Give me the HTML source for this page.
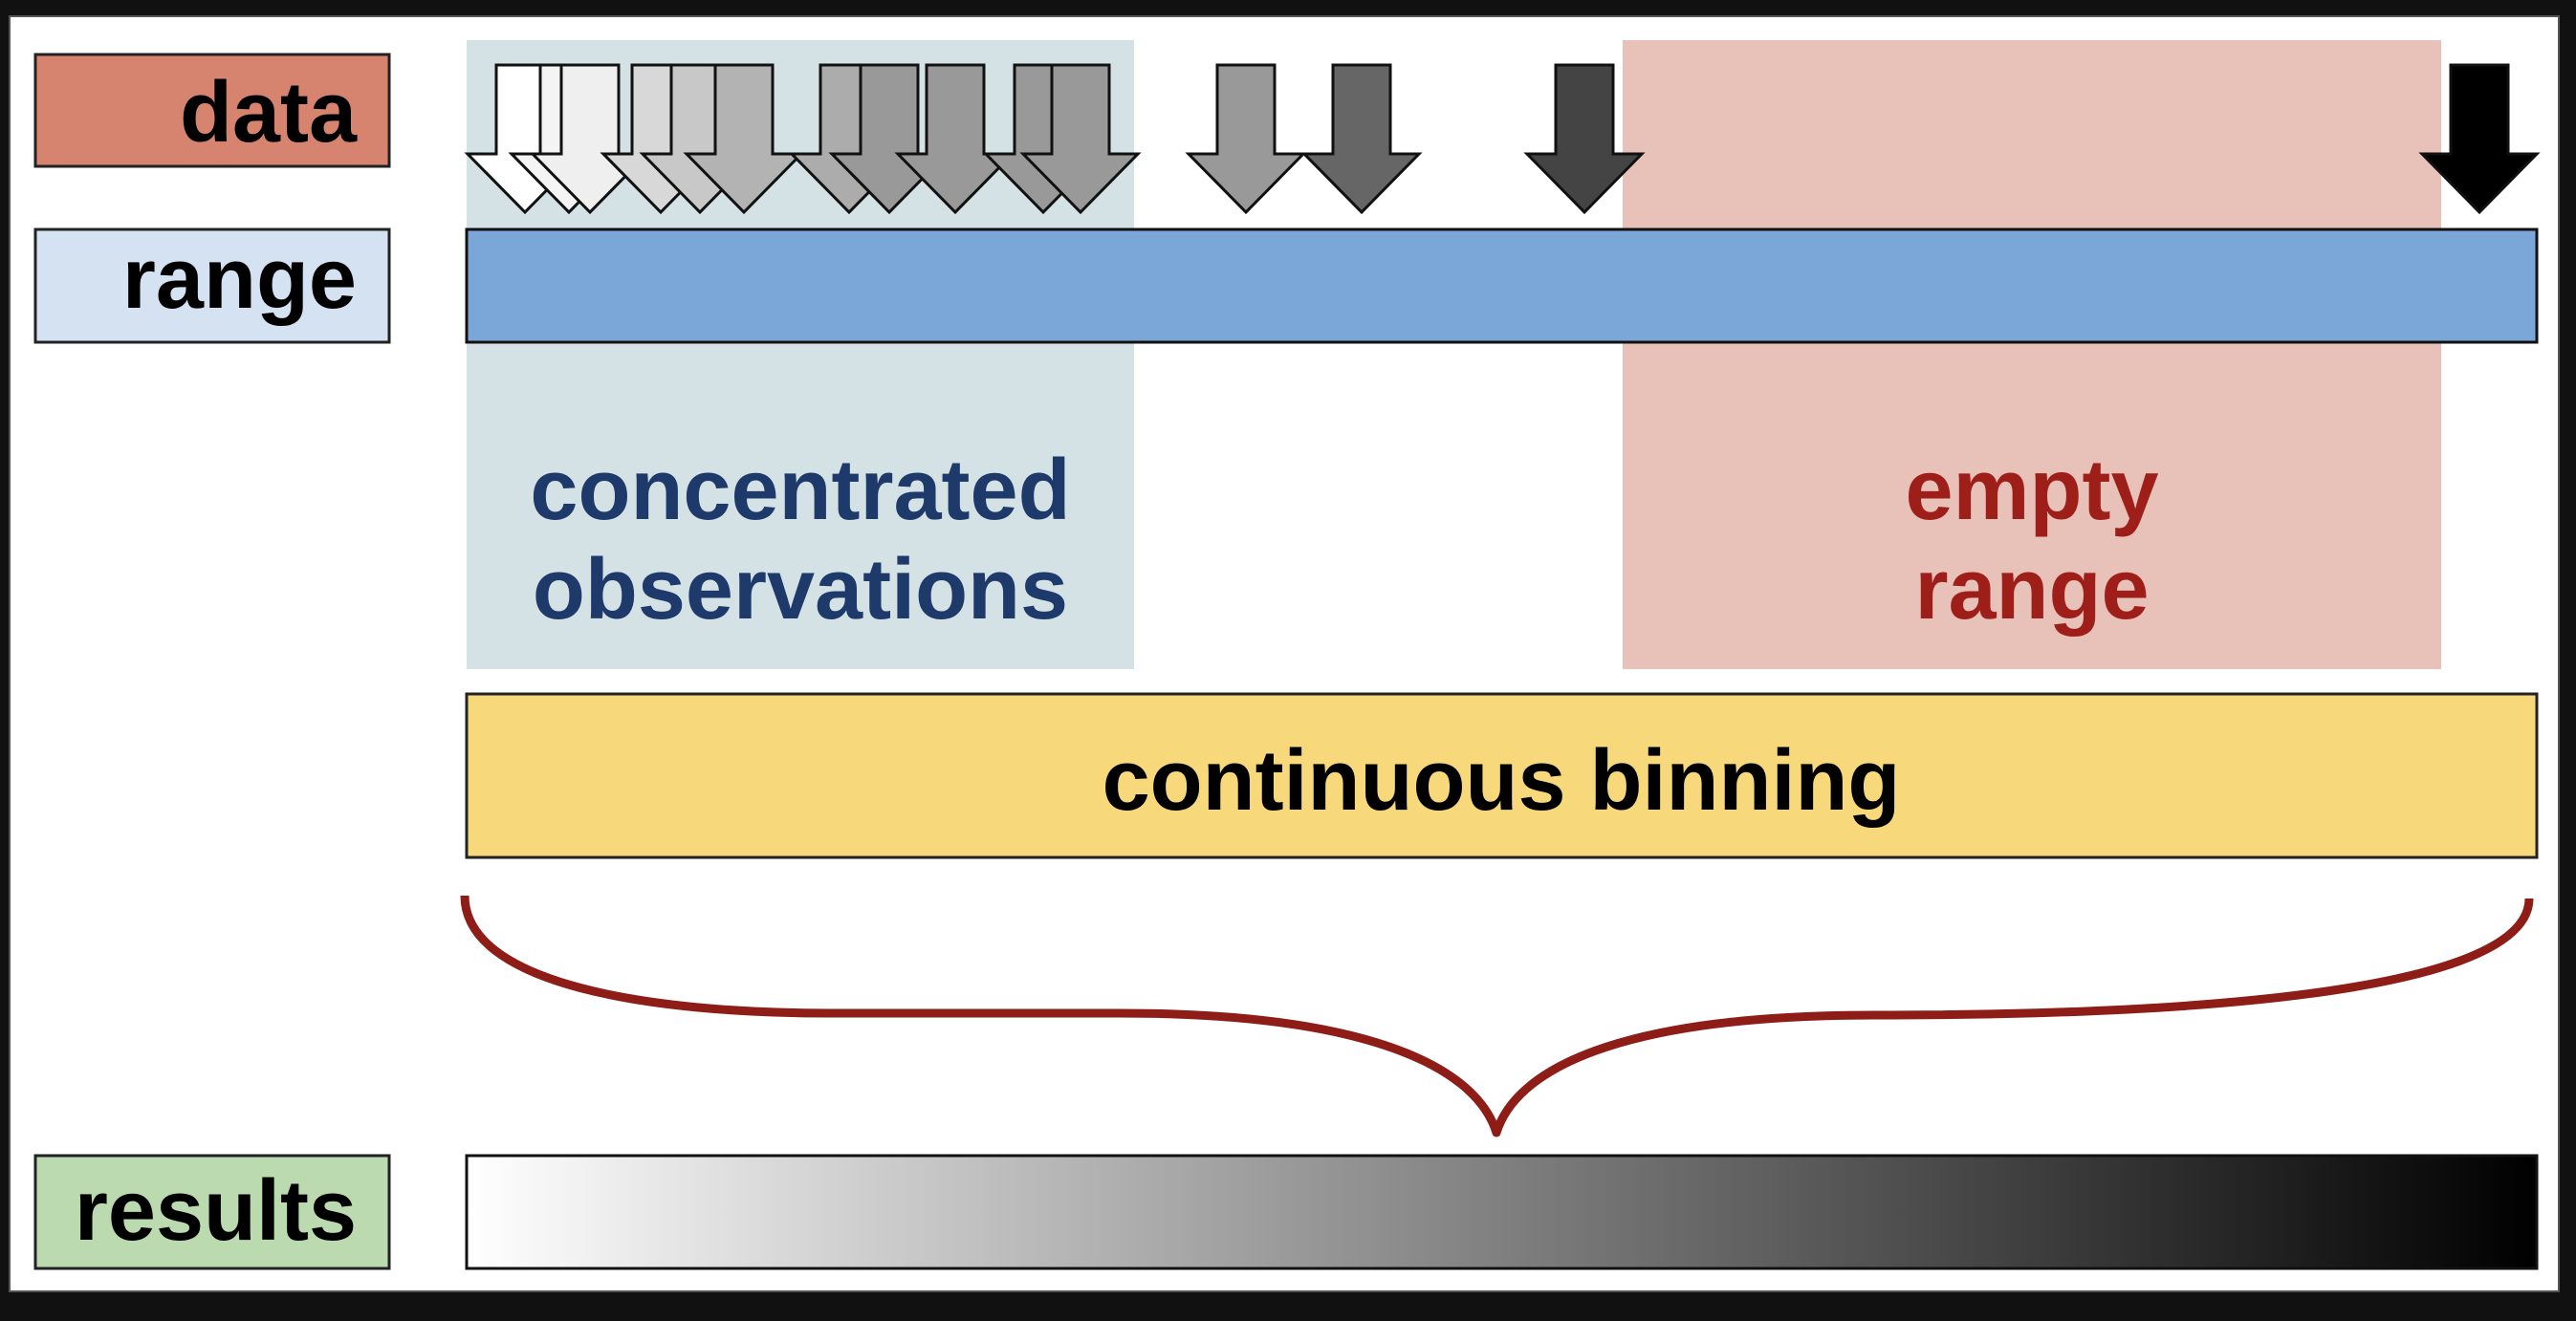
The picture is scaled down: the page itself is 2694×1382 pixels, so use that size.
<!DOCTYPE html>
<html><head><meta charset="utf-8"><style>
html,body{margin:0;padding:0;background:#111;}
svg{display:block;}
text{font-family:"Liberation Sans",Arial,sans-serif;font-weight:bold;}
</style></head><body>
<svg width="2694" height="1382" viewBox="0 0 2694 1382" xmlns="http://www.w3.org/2000/svg">
<defs>
<linearGradient id="g" x1="0" x2="1" y1="0" y2="0">
<stop offset="0" stop-color="#ffffff"/><stop offset="1" stop-color="#000000"/>
</linearGradient>
<symbol id="arr" overflow="visible">
<path d="M-30,0 L30,0 L30,93 L60,93 L0,154 L-60,93 L-30,93 Z" stroke="#111" stroke-width="3" stroke-linejoin="miter"/>
</symbol>
</defs>
<rect x="0" y="0" width="2694" height="1382" fill="#111"/>
<rect x="10" y="17" width="2666" height="1334" fill="#fff" stroke="#555" stroke-width="2"/>
<rect x="488" y="42" width="698" height="658" fill="#d5e2e5"/>
<rect x="1697" y="42" width="856" height="658" fill="#e8c1b8"/>
<rect x="37" y="57" width="370" height="117" fill="#d6846f" stroke="#222" stroke-width="3"/>
<text x="373" y="148" font-size="90" text-anchor="end" fill="#000">data</text>
<rect x="37" y="240" width="370" height="118" fill="#d4e2f2" stroke="#222" stroke-width="3"/>
<text x="373" y="322" font-size="90" text-anchor="end" fill="#000">range</text>
<rect x="37" y="1209" width="370" height="118" fill="#bcdab0" stroke="#222" stroke-width="3"/>
<text x="373" y="1297" font-size="90" text-anchor="end" fill="#000">results</text>
<g transform="translate(0,68)">
<use href="#arr" x="549" fill="#ffffff"/>
<use href="#arr" x="595" fill="#f4f4f4"/>
<use href="#arr" x="617" fill="#efefef"/>
<use href="#arr" x="691" fill="#d8d8d8"/>
<use href="#arr" x="732" fill="#c8c8c8"/>
<use href="#arr" x="778" fill="#b3b3b3"/>
<use href="#arr" x="888" fill="#acacac"/>
<use href="#arr" x="930" fill="#999999"/>
<use href="#arr" x="999" fill="#999999"/>
<use href="#arr" x="1091" fill="#999999"/>
<use href="#arr" x="1130" fill="#999999"/>
<use href="#arr" x="1303" fill="#999999"/>
<use href="#arr" x="1424" fill="#666666"/>
<use href="#arr" x="1657" fill="#444444"/>
<use href="#arr" x="2593" fill="#000000"/>
</g>
<rect x="488" y="240" width="2165" height="118" fill="#7ba7d8" stroke="#111" stroke-width="3"/>
<text x="837" y="543" font-size="90" text-anchor="middle" fill="#1d3a6a">concentrated</text>
<text x="837" y="647" font-size="90" text-anchor="middle" fill="#1d3a6a">observations</text>
<text x="2125" y="543" font-size="90" text-anchor="middle" fill="#9e1f1a">empty</text>
<text x="2125" y="647" font-size="90" text-anchor="middle" fill="#9e1f1a">range</text>
<rect x="488" y="726" width="2165" height="171" fill="#f7d97b" stroke="#222" stroke-width="3"/>
<text x="1570" y="847" font-size="90" text-anchor="middle" fill="#000">continuous binning</text>
<path d="M486,937 C486,1030 680,1060 868,1060 L1171,1060 C1440,1060 1545,1120 1565,1185 C1585,1120 1690,1062 1960,1062 C2380,1062 2645,1025 2645,940" fill="none" stroke="#8e1c17" stroke-width="9" stroke-linejoin="round"/>
<rect x="488" y="1209" width="2165" height="118" fill="url(#g)" stroke="#111" stroke-width="3"/>
</svg>
</body></html>
